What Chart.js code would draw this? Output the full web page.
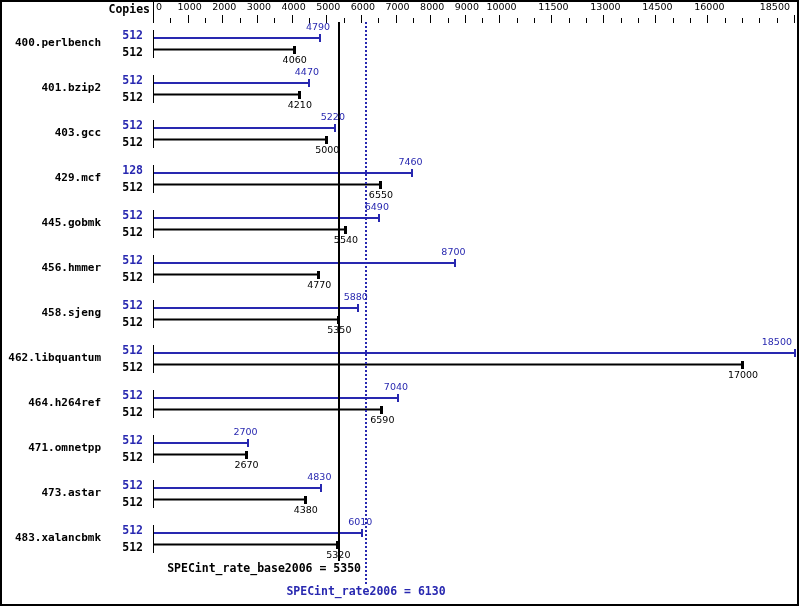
<!DOCTYPE html>
<html>
<head>
<meta charset="utf-8">
<script src="https://cdn.jsdelivr.net/npm/chart.js@4"></script>
<style>
html,body{margin:0;padding:0;background:#fff;}
canvas{display:block;}
</style>
</head>
<body>
<canvas id="c" width="799" height="606"></canvas>
<script>
const benchmarks = ['400.perlbench','401.bzip2','403.gcc','429.mcf','445.gobmk','456.hmmer','458.sjeng','462.libquantum','464.h264ref','471.omnetpp','473.astar','483.xalancbmk'];
const peakValues = [4790,4470,5220,7460,6490,8700,5880,18500,7040,2700,4830,6010];
const baseValues = [4060,4210,5000,6550,5540,4770,5350,17000,6590,2670,4380,5320];
const peakCopies = [512,512,512,128,512,512,512,512,512,512,512,512];
const baseCopies = [512,512,512,512,512,512,512,512,512,512,512,512];
const tickLabels = [0,1000,2000,3000,4000,5000,6000,7000,8000,9000,10000,11500,13000,14500,16000,18500];
const minorStep = 500;
const axisMax = 18500;
const baseScore = 5350;
const peakScore = 6130;
const baseTitle = 'SPECint_rate_base2006 = ' + baseScore;
const peakTitle = 'SPECint_rate2006 = ' + peakScore;

const BLUE = 'rgb(40,40,176)';
const BLACK = '#000';
const boldFont = 'bold 11.5px "DejaVu Sans Mono"';
const nameFont = 'bold 11px "DejaVu Sans Mono"';
const numFont = '9.5px "DejaVu Sans"';

const overlay = {
  id: 'overlay',
  beforeDraw(chart) {
    const ctx = chart.ctx;
    ctx.save();
    ctx.fillStyle = '#fff';
    ctx.fillRect(0, 0, chart.width, chart.height);
    ctx.restore();
  },
  afterDatasetsDraw(chart) {
    const ctx = chart.ctx;
    const xs = chart.scales.x;
    const m0 = chart.getDatasetMeta(0).data;
    const m1 = chart.getDatasetMeta(1).data;
    const x0 = xs.getPixelForValue(0);
    ctx.save();

    // top axis
    ctx.fillStyle = BLACK;
    ctx.fillRect(Math.round(x0) - 1, 0, 1, 23);
    ctx.font = boldFont;
    ctx.textAlign = 'right';
    ctx.textBaseline = 'middle';
    ctx.fillText('Copies', 150, 10);
    for (let v = 0; v <= axisMax; v += minorStep) {
      const px = Math.round(xs.getPixelForValue(v));
      const major = tickLabels.includes(v);
      if (v === 0) continue;
      ctx.fillRect(px - 1, major ? 15 : 18, 1, major ? 8 : 5);
    }
    ctx.font = numFont;
    tickLabels.forEach((v, i) => {
      const px = xs.getPixelForValue(v);
      if (i === 0) { ctx.textAlign = 'left'; ctx.fillText(String(v), px + 2, 7.5); }
      else if (i === tickLabels.length - 1) { ctx.textAlign = 'right'; ctx.fillText(String(v), px - 5, 7.5); }
      else { ctx.textAlign = 'center'; ctx.fillText(String(v), px + 1, 7.5); }
    });

    // reference lines
    const bx = Math.round(xs.getPixelForValue(baseScore));
    ctx.fillRect(bx - 1, 22, 2, 539);
    const px6 = Math.round(xs.getPixelForValue(peakScore));
    ctx.fillStyle = BLUE;
    for (let yy = 22; yy < 583; yy += 4) ctx.fillRect(px6 - 1, yy, 2, 2);

    // rows
    for (let i = 0; i < benchmarks.length; i++) {
      const pb = m0[i], bb = m1[i];
      const pyc = pb.y, byc = bb.y;
      ctx.fillStyle = BLACK;
      ctx.fillRect(Math.round(x0) - 1, Math.round(pyc) - 8, 1, Math.round(byc - pyc) + 16);
      ctx.fillStyle = BLUE;
      ctx.fillRect(Math.round(pb.x) - 1, Math.round(pyc) - 4, 2, 8);
      ctx.fillStyle = BLACK;
      ctx.fillRect(Math.round(bb.x) - 2, Math.round(byc) - 4, 3, 8);
      ctx.textBaseline = 'middle';
      ctx.textAlign = 'right';
      ctx.font = nameFont;
      ctx.fillStyle = BLACK;
      ctx.fillText(benchmarks[i], 101, (pyc + byc) / 2 - 0.5);
      ctx.font = boldFont;
      ctx.fillStyle = BLUE;
      ctx.fillText(String(peakCopies[i]), 143, pyc - 2);
      ctx.fillStyle = BLACK;
      ctx.fillText(String(baseCopies[i]), 143, byc + 3.5);
      ctx.font = numFont;
      ctx.fillStyle = BLUE;
      let tw = ctx.measureText(String(peakValues[i])).width;
      let lx = Math.min(pb.x, 794 - tw / 2);
      ctx.textAlign = 'center';
      ctx.fillText(String(peakValues[i]), lx - 2, pyc - 10);
      ctx.fillStyle = BLACK;
      tw = ctx.measureText(String(baseValues[i])).width;
      lx = Math.min(bb.x, 794 - tw / 2);
      ctx.fillText(String(baseValues[i]), lx, byc + 11.5);
    }

    ctx.font = boldFont;
    ctx.fillStyle = BLACK;
    ctx.textAlign = 'right';
    ctx.fillText(baseTitle, px6 - 5, 569.5);
    ctx.fillStyle = BLUE;
    ctx.textAlign = 'center';
    ctx.fillText(peakTitle, px6, 592);

    ctx.strokeStyle = BLACK;
    ctx.lineWidth = 2;
    ctx.strokeRect(1, 1, 797, 604);
    ctx.restore();
  }
};

new Chart(document.getElementById('c'), {
  type: 'bar',
  data: {
    labels: benchmarks,
    datasets: [
      { label: 'Peak', data: peakValues, backgroundColor: BLUE, borderWidth: 0, maxBarThickness: 2 },
      { label: 'Base', data: baseValues, backgroundColor: BLACK, borderWidth: 0, maxBarThickness: 2 }
    ]
  },
  options: {
    indexAxis: 'y',
    responsive: false,
    animation: false,
    devicePixelRatio: 1,
    layout: { padding: { left: 154, right: 4, top: 21.25, bottom: 44.75 } },
    datasets: { bar: { categoryPercentage: 23 / 45, barPercentage: 1 } },
    scales: {
      x: { type: 'linear', min: 0, max: axisMax, display: false },
      y: { type: 'category', offset: true, display: false }
    },
    plugins: { legend: { display: false }, tooltip: { enabled: false } }
  },
  plugins: [overlay]
});
</script>
</body>
</html>
